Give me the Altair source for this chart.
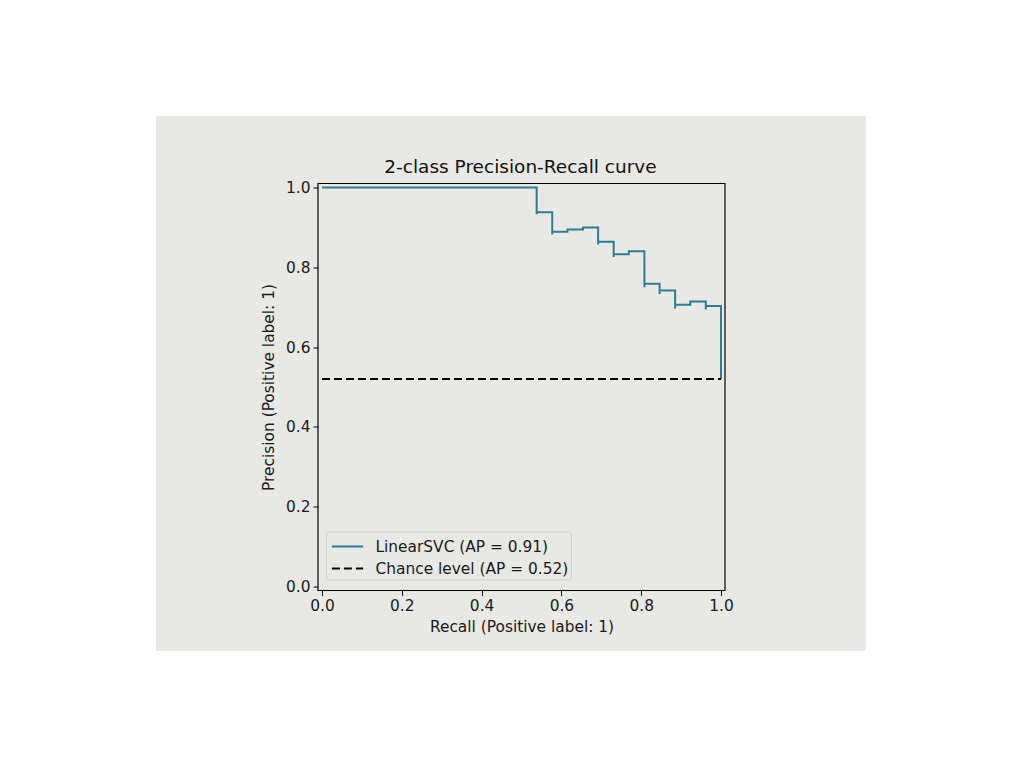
import pandas as pd
import altair as alt

# Step curve vertices, in increasing recall order
recall = [0.0, 0.538, 0.538, 0.577, 0.577, 0.615, 0.654, 0.692, 0.692, 0.731,
          0.731, 0.769, 0.808, 0.808, 0.808, 0.808, 0.846, 0.846, 0.885, 0.885,
          0.885, 0.923, 0.962, 0.962, 1.0, 1.0]
precision = [1.0, 1.0, 0.933, 0.938, 0.882, 0.889, 0.895, 0.900, 0.857, 0.864,
             0.826, 0.833, 0.840, 0.808, 0.778, 0.750, 0.759, 0.733, 0.742, 0.719,
             0.697, 0.706, 0.714, 0.694, 0.703, 0.520]

chance_recall = [0.0, 1.0]
chance_precision = [0.52, 0.52]

series_labels = ["LinearSVC (AP = 0.91)", "Chance level (AP = 0.52)"]
series_colors = ["#2b7d93", "#000000"]
series_dashes = [[1, 0], [8, 4]]
tick_values = [0.0, 0.2, 0.4, 0.6, 0.8, 1.0]
title_text = "2-class Precision-Recall curve"

PANEL = "#e8e8e4"
FONT = "DejaVu Sans"
FS = 15.4
W, H = 407, 407

curve_df = pd.DataFrame({
    "recall": recall,
    "precision": precision,
    "step": range(len(recall)),
    "series": series_labels[0],
})
chance_df = pd.DataFrame({
    "recall": chance_recall,
    "precision": chance_precision,
    "step": range(len(chance_recall)),
    "series": series_labels[1],
})

x_enc = alt.X("recall:Q", title="Recall (Positive label: 1)",
              scale=alt.Scale(domain=[-0.01, 1.01], nice=False, zero=False),
              axis=alt.Axis(values=tick_values, format=".1f", zindex=2))
y_enc = alt.Y("precision:Q", title="Precision (Positive label: 1)",
              scale=alt.Scale(domain=[-0.01, 1.01], nice=False, zero=False),
              axis=alt.Axis(values=tick_values, format=".1f", zindex=2))
color_enc = alt.Color("series:N", title=None,
                      scale=alt.Scale(domain=series_labels, range=series_colors),
                      legend=alt.Legend(orient="none", legendX=8, legendY=348))
dash_enc = alt.StrokeDash("series:N", title=None,
                          scale=alt.Scale(domain=series_labels, range=series_dashes),
                          legend=alt.Legend(orient="none", legendX=8, legendY=348))

one_row = pd.DataFrame({"k": [0]})

# grey figure panel behind everything
panel = alt.Chart(one_row).mark_rect(color=PANEL).encode(
    x=alt.value(-162), x2=alt.value(548), y=alt.value(-67.5), y2=alt.value(467.5)
)

# axes frame (spines)
frame = alt.Chart(one_row).mark_rect(filled=False, stroke="black", strokeWidth=1.2).encode(
    x=alt.value(0), x2=alt.value(W), y=alt.value(0), y2=alt.value(H)
)

title = alt.Chart(one_row).mark_text(
    font=FONT, fontSize=18.5, color="#111111", baseline="alphabetic", align="center"
).encode(x=alt.value(W / 2 - 1), y=alt.value(-11), text=alt.value(title_text))

curve = alt.Chart(curve_df).mark_line(interpolate="step-before", strokeWidth=2).encode(
    x=x_enc, y=y_enc, order="step:Q", color=color_enc, strokeDash=dash_enc
)

chance = alt.Chart(chance_df).mark_line(strokeWidth=2).encode(
    x=x_enc, y=y_enc, order="step:Q", color=color_enc, strokeDash=dash_enc
)

chart = alt.layer(panel, frame, title, curve, chance).properties(
    width=W,
    height=H,
    autosize=alt.AutoSizeParams(type="none"),
    padding={"left": 310, "top": 175.5, "right": 290, "bottom": 160},
    background="white",
).configure_view(
    stroke=None
).configure_axis(
    grid=False,
    domain=False,
    tickSize=5,
    tickColor="black",
    tickWidth=1,
    labelFont=FONT,
    labelFontSize=FS,
    labelColor="#1a1a1a",
    titleFont=FONT,
    titleFontSize=FS,
    titleFontWeight="normal",
    titleColor="#1a1a1a",
).configure_axisX(
    labelPadding=3, titlePadding=6
).configure_axisY(
    labelPadding=3, titlePadding=9
).configure_legend(
    labelFont=FONT,
    labelFontSize=FS,
    labelColor="#1a1a1a",
    labelLimit=0,
    symbolType="M-1.3,0L1.3,0",
    symbolSize=576,
    symbolStrokeWidth=2,
    symbolOffset=6.5,
    labelOffset=15,
    rowPadding=0,
    padding=2,
    fillColor=PANEL,
    strokeColor="#cfcfcb",
    cornerRadius=3,
)

chart.save("out.html", embed_options={"renderer": "svg", "actions": False})
